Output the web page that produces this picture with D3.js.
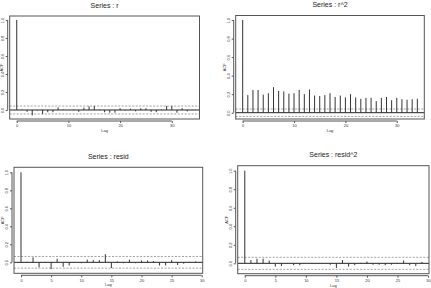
<!DOCTYPE html>
<meta charset="utf-8" />
<style>
  body { margin: 0; background: #fff; }
  svg { font-family: "Liberation Sans", Arial, sans-serif; }
  .box { fill: none; stroke: #555; stroke-width: 1px; }
  .bar { stroke: #333; stroke-width: 1px; }
  .zero { stroke: #222; stroke-width: 1px; }
  .clim { stroke: #8a8a8a; stroke-width: 0.8px; stroke-dasharray: 2, 1.5; }
  .axis path { stroke: #555; }
  .axis line { stroke: #555; }
  .axis text { fill: #333; font-size: 4px; }
</style>
<svg width="431" height="288"></svg>
<script src="https://d3js.org/d3.v7.min.js"></script>
<script>
  /* global d3 */

  // lags
  var lagsLong = d3.range(0, 35);
  var lagsShort = d3.range(0, 30);

  // autocorrelations
  var acfR = [1, 0.005, -0.02, -0.06, -0.005, -0.045, -0.025, -0.025, 0.03, 0.005,
    0, 0.005, -0.02, 0.025, 0.04, 0.045, 0.005, -0.025, -0.03, -0.03,
    0.02, -0.005, 0.015, -0.015, 0.02, 0.02, -0.02, -0.025, 0.005, 0.045,
    0.045, -0.03, 0.02, -0.015, 0.002];
  var acfR2 = [1, 0.19, 0.245, 0.245, 0.195, 0.21, 0.275, 0.235, 0.23, 0.205,
    0.21, 0.245, 0.2, 0.25, 0.185, 0.18, 0.19, 0.21, 0.17, 0.185,
    0.165, 0.2, 0.165, 0.15, 0.16, 0.16, 0.125, 0.16, 0.17, 0.135,
    0.16, 0.145, 0.14, 0.145, 0.15];
  var acfResid = [1, 0.005, 0.055, -0.055, -0.005, -0.075, 0.04, -0.05, -0.035, 0.003,
    -0.01, 0.03, 0.025, 0.025, 0.09, -0.065, 0.01, -0.01, 0.03, -0.01,
    0.02, 0.02, 0.015, -0.035, -0.035, 0.025, -0.03, -0.015, 0.005, 0.01];
  var acfResid2 = [1, 0.035, 0.05, 0.05, 0.03, -0.035, -0.03, -0.005, -0.02, -0.02,
    0, -0.005, -0.005, 0.003, -0.015, -0.05, 0.035, -0.035, -0.02, 0.005,
    0.02, -0.015, -0.015, -0.02, -0.015, 0.005, 0.03, -0.02, -0.03, 0.015];

  // confidence bounds
  var climR = 0.044, climR2 = 0.04, climResid = 0.065, climResid2 = 0.065;

  var titles = ["Series : r", "Series : r^2", "Series : resid", "Series : resid^2"];
  var yTicks = [0, 0.2, 0.4, 0.6, 0.8, 1.0];
  var xTicksLong = [0, 10, 20, 30];
  var xTicksShort = [0, 5, 10, 15, 20, 25, 30];

  var panels = [
    { title: titles[0], lags: lagsLong, acf: acfR, clim: climR, xTicks: xTicksLong,
      box: [9.7, 16, 199.5, 119], xdom: [-1.36, 35.36], ydom: [-0.1, 1.044], ylabX: 2.5 },
    { title: titles[1], lags: lagsLong, acf: acfR2, clim: climR2, xTicks: xTicksLong,
      box: [235.7, 15.5, 424.3, 119], xdom: [-1.36, 35.36], ydom: [-0.068, 1.049] },
    { title: titles[2], lags: lagsShort, acf: acfResid, clim: climResid, xTicks: xTicksShort,
      box: [14, 167.3, 202.7, 273.3], xdom: [-1.16, 30.16], ydom: [-0.122, 1.056] },
    { title: titles[3], lags: lagsShort, acf: acfResid2, clim: climResid2, xTicks: xTicksShort,
      box: [237.7, 165.7, 429, 273.7], xdom: [-1.16, 30.16], ydom: [-0.112, 1.054] }
  ];

  var svg = d3.select("svg");

  panels.forEach(function (p) {
    var x0 = p.box[0], y0 = p.box[1], x1 = p.box[2], y1 = p.box[3];
    var x = d3.scaleLinear().domain(p.xdom).range([x0, x1]);
    var y = d3.scaleLinear().domain(p.ydom).range([y1, y0]);
    var g = svg.append("g");

    // confidence lines
    [p.clim, -p.clim].forEach(function (c) {
      g.append("line").attr("class", "clim")
        .attr("x1", x0).attr("x2", x1)
        .attr("y1", y(c)).attr("y2", y(c));
    });

    // zero line
    g.append("line").attr("class", "zero")
      .attr("x1", x0).attr("x2", x1)
      .attr("y1", y(0)).attr("y2", y(0));

    // spikes
    g.selectAll("line.bar").data(p.lags).enter().append("line")
      .attr("class", "bar")
      .attr("x1", function (d) { return x(d); })
      .attr("x2", function (d) { return x(d); })
      .attr("y1", y(0))
      .attr("y2", function (d) { return y(p.acf[d]); });

    g.append("rect").attr("class", "box")
      .attr("x", x0).attr("y", y0)
      .attr("width", x1 - x0).attr("height", y1 - y0);

    // x axis
    var xa = g.append("g").attr("class", "axis")
      .attr("transform", "translate(0," + (y1 + 2) + ")")
      .call(d3.axisBottom(x).tickValues(p.xTicks).tickSize(2).tickSizeOuter(0).tickPadding(1.5)
        .tickFormat(d3.format("d")));
    xa.select(".domain").attr("d", "M" + x(p.xTicks[0]) + ",0H" + x(p.xTicks[p.xTicks.length - 1]));

    // y axis, labels parallel to axis
    var ya = g.append("g").attr("class", "axis")
      .attr("transform", "translate(" + (x0 - 2) + ",0)")
      .call(d3.axisLeft(y).tickValues(yTicks).tickSize(2).tickSizeOuter(0)
        .tickFormat(d3.format(".1f")));
    ya.select(".domain").attr("d", "M0," + y(0) + "V" + y(1));
    ya.selectAll(".tick text")
      .attr("x", null).attr("dy", null)
      .attr("text-anchor", "middle")
      .attr("transform", "translate(-4,0) rotate(-90)");

    g.append("text")
      .attr("x", (x0 + x1) / 2).attr("y", y0 - 8.5)
      .attr("text-anchor", "middle")
      .attr("font-size", 7).attr("fill", "#222")
      .text(p.title);

    g.append("text")
      .attr("x", (x0 + x1) / 2).attr("y", y1 + 13)
      .attr("text-anchor", "middle")
      .attr("font-size", 4).attr("fill", "#333")
      .text("Lag");

    var ylabX = p.ylabX != null ? p.ylabX : x0 - 10;
    g.append("text")
      .attr("transform", "translate(" + ylabX + "," + (y0 + y1) / 2 + ") rotate(-90)")
      .attr("text-anchor", "middle")
      .attr("font-size", 4).attr("fill", "#333")
      .text("ACF");
  });
</script>
